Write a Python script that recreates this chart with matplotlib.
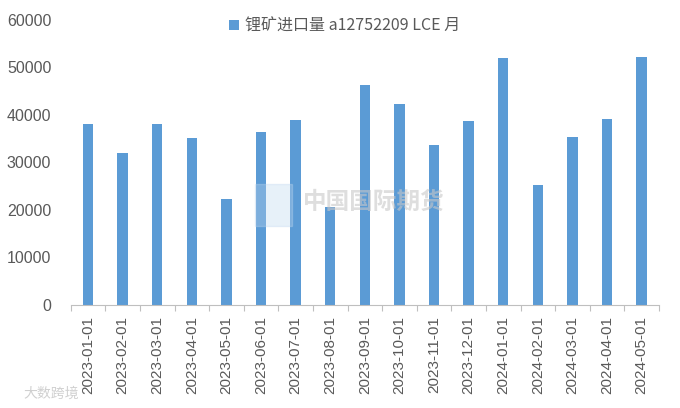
import matplotlib.pyplot as plt
import numpy as np

plt.rcParams["font.family"] = ["Liberation Sans", "Noto Sans CJK SC", "DejaVu Sans"]
plt.rcParams["axes.unicode_minus"] = False

months = [
    "2023-01-01", "2023-02-01", "2023-03-01", "2023-04-01", "2023-05-01",
    "2023-06-01", "2023-07-01", "2023-08-01", "2023-09-01", "2023-10-01",
    "2023-11-01", "2023-12-01", "2024-01-01", "2024-02-01", "2024-03-01",
    "2024-04-01", "2024-05-01",
]
imports = [
    38000, 32000, 38000, 35200, 22300,
    36500, 39000, 20600, 46300, 42300,
    33700, 38800, 52000, 25300, 35400,
    39200, 52200,
]
series_name = "锂矿进口量 a12752209 LCE 月"
y_ticks = [0, 10000, 20000, 30000, 40000, 50000, 60000]

fig = plt.figure(figsize=(6.8, 4.08), dpi=100)
ax = fig.add_axes([0.104, 0.2525, 0.865, 0.6985])

x = np.arange(len(months))
ax.bar(x, imports, width=0.3, color="#5B9BD5", label=series_name, zorder=2)

ax.set_xlim(-0.5, len(months) - 0.5)
ax.set_ylim(0, 60000)
ax.set_yticks(y_ticks)
ax.set_yticklabels([str(v) for v in y_ticks], fontsize=11.5, color="#595959")
ax.tick_params(axis="y", length=0, pad=14)

ax.set_xticks(x)
ax.set_xticklabels(months, rotation=90, fontsize=11, color="#595959")
ax.tick_params(axis="x", length=0, pad=8)
ax.set_xticks(np.arange(len(months) + 1) - 0.5, minor=True)
ax.tick_params(axis="x", which="minor", length=4, color="#BFBFBF", width=0.8)

for side in ["top", "right", "left"]:
    ax.spines[side].set_visible(False)
ax.spines["bottom"].set_color("#BFBFBF")

leg = ax.legend(loc="upper center", bbox_to_anchor=(0.466, 1.06), frameon=False,
                handlelength=0.6, handleheight=0.6, handletextpad=0.4,
                prop={"family": ["Noto Sans CJK SC", "DejaVu Sans"], "size": 11.5})
for t in leg.get_texts():
    t.set_color("#595959")

# faint watermarks
fig.text(0.55, 0.505, "中国国际期货", fontsize=17, color="#C8C8C8", alpha=0.6,
         ha="center", va="center", family=["Noto Sans CJK SC"], fontweight="bold")
fig.patches.append(plt.Rectangle((0.375, 0.445), 0.055, 0.105, transform=fig.transFigure,
                                 color="#BDD7EE", alpha=0.35, zorder=0))
fig.text(0.075, 0.035, "大数跨境", fontsize=10, color="#D0D0D0",
         ha="center", va="center", family=["Noto Sans CJK SC"])

fig.savefig("out.png", dpi=100)
